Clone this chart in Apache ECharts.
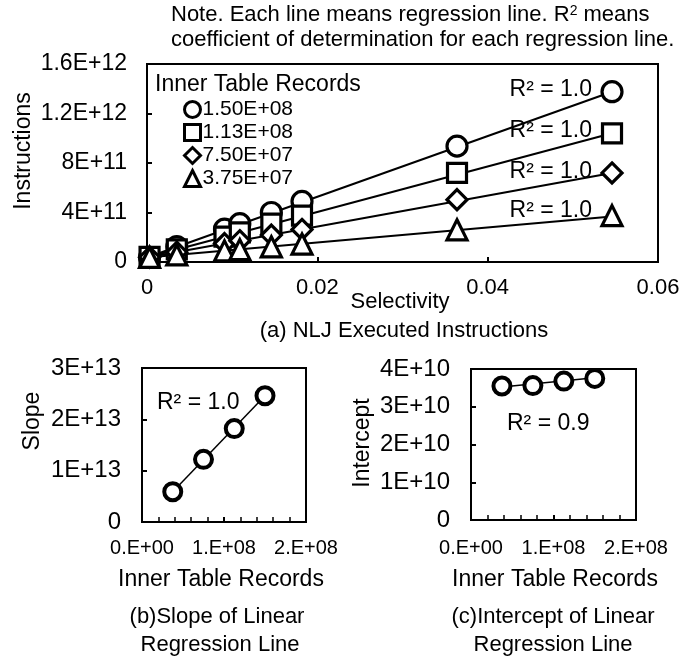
<!DOCTYPE html>
<html><head><meta charset="utf-8">
<script src="https://cdn.jsdelivr.net/npm/echarts@6/dist/echarts.min.js"></script>
<style>html,body{margin:0;padding:0;background:#fff}#c{width:683px;height:666px}</style>
</head><body><div id="c"></div>
<script>
// ---- data ----
const selectivity = [0.0003, 0.0035, 0.0091, 0.0109, 0.0146, 0.0182, 0.0364, 0.0546];
const instr150 = [3.8e10, 1.25e11, 2.65e11, 3.1e11, 4.0e11, 4.9e11, 9.36e11, 1.376e12];
const instr113 = [4.2e10, 1.02e11, 2.05e11, 2.4e11, 3.1e11, 3.75e11, 7.2e11, 1.04e12];
const instr75  = [3.9e10, 7.9e10, 1.49e11, 1.72e11, 2.18e11, 2.63e11, 5.04e11, 7.2e11];
const instr375 = [3.7e10, 5.7e10, 9.0e10, 1.0e11, 1.23e11, 1.45e11, 2.6e11, 3.75e11];
const fitSel = [0, 0.0546];
const fit150 = [3.6e10, 1.376e12];
const fit113 = [3.7e10, 1.04e12];
const fit75  = [3.6e10, 7.2e11];
const fit375 = [3.6e10, 3.68e11];
const legendNames = ['1.50E+08', '1.13E+08', '7.50E+07', '3.75E+07'];
const r2Main = ['R² = 1.0', 'R² = 1.0', 'R² = 1.0', 'R² = 1.0'];
const yTicksA = ['0', '4E+11', '8E+11', '1.2E+12', '1.6E+12'];
const xTicksA = ['0', '0.02', '0.04', '0.06'];

const innerRecords = [3.75e7, 7.5e7, 1.125e8, 1.5e8];
const slopes = [5.9e12, 1.22e13, 1.82e13, 2.46e13];
const intercepts = [3.55e10, 3.56e10, 3.68e10, 3.75e10];
const fitRecords = [3.75e7, 1.5e8];
const slopeFit = [5.9e12, 2.46e13];
const interceptFit = [3.52e10, 3.77e10];
const yTicksB = ['0', '1E+13', '2E+13', '3E+13'];
const yTicksC = ['0', '1E+10', '2E+10', '3E+10', '4E+10'];
const xTicksBC = ['0.E+00', '1.E+08', '2.E+08'];

// ---- chart ----
const FONT = 'Liberation Sans, Arial, sans-serif';
const chart = echarts.init(document.getElementById('c'));
const zip = (xs, ys) => xs.map((x, i) => [x, ys[i]]);
const lbl = (arr, step) => (v) => { const k = Math.round(v / step); return arr[k] !== undefined ? arr[k] : ''; };
const tickStyle = {inside: true, length: 5, lineStyle: {color: '#000', width: 2}};
const axisLine = {show: true, lineStyle: {color: '#000', width: 2}};
const labStyle = (m, fs) => ({color: '#000', fontSize: fs, fontFamily: FONT, margin: m});

const symbols = ['circle', 'rect', 'diamond', 'triangle'];
const symSizes = [20, 19, 20, 20];
const sets = [instr150, instr113, instr75, instr375];
const fits = [fit150, fit113, fit75, fit375];

const series = [];
fits.forEach((f, i) => {
  series.push({type: 'line', xAxisIndex: 0, yAxisIndex: 0, data: zip(fitSel, f), symbol: 'none',
    lineStyle: {color: '#000', width: 2}, z: 2, silent: true, name: 'fit' + i});
});
sets.forEach((s, i) => {
  series.push({type: 'scatter', name: legendNames[i], xAxisIndex: 0, yAxisIndex: 0,
    data: zip(selectivity, s), symbol: symbols[i], symbolSize: symSizes[i],
    itemStyle: {color: '#fff', borderColor: '#000', borderWidth: 3.2, opacity: 1}, z: 3});
});
series.push({type: 'line', xAxisIndex: 1, yAxisIndex: 1, data: zip(fitRecords, slopeFit), symbol: 'none',
  lineStyle: {color: '#000', width: 1.5}, z: 2});
series.push({type: 'scatter', xAxisIndex: 1, yAxisIndex: 1, data: zip(innerRecords, slopes), symbol: 'circle',
  symbolSize: 17, itemStyle: {color: '#fff', borderColor: '#000', borderWidth: 4, opacity: 1}, z: 3});
series.push({type: 'line', xAxisIndex: 2, yAxisIndex: 2, data: zip(fitRecords, interceptFit), symbol: 'none',
  lineStyle: {color: '#000', width: 1.5}, z: 2});
series.push({type: 'scatter', xAxisIndex: 2, yAxisIndex: 2, data: zip(innerRecords, intercepts), symbol: 'circle',
  symbolSize: 17, itemStyle: {color: '#fff', borderColor: '#000', borderWidth: 4, opacity: 1}, z: 3});

const txt = (text, x, y, size, align, rot) => ({type: 'text', x: x, y: y, rotation: rot || 0, z: 10,
  style: {text: text, fontSize: size, fontFamily: FONT, fill: '#000', align: align || 'left', verticalAlign: 'middle'}});

const graphic = [
  {type: 'text', x: 171, y: 15, z: 10, style: {text: 'Note. Each line means regression line. R{s|2} means',
    fontSize: 22, fontFamily: FONT, fill: '#000', align: 'left', verticalAlign: 'middle',
    rich: {s: {fontSize: 14, fontFamily: FONT, verticalAlign: 'top', lineHeight: 22}}}},
  txt('coefficient of determination for each regression line.', 171, 40, 22),
  txt('Inner Table Records', 155, 85, 23),
  txt('Instructions', 24, 151, 23, 'center', Math.PI / 2),
  txt('Selectivity', 400, 302, 22, 'center'),
  txt('(a) NLJ Executed Instructions', 404, 331, 22, 'center'),
  txt('Slope', 33, 421, 23, 'center', Math.PI / 2),
  txt('Intercept', 363, 443, 23, 'center', Math.PI / 2),
  txt('R² = 1.0', 157, 403, 23),
  txt('R² = 0.9', 507, 424, 23),
  txt('Inner Table Records', 221, 580, 23, 'center'),
  txt('Inner Table Records', 555, 580, 23, 'center'),
  txt('(b)Slope of Linear', 217, 617, 22, 'center'),
  txt('Regression Line', 220, 645, 22, 'center'),
  txt('(c)Intercept of Linear', 553, 617, 22, 'center'),
  txt('Regression Line', 553, 645, 22, 'center')
];
const r2Y = [90, 131, 172, 211];
r2Main.forEach((t, i) => graphic.push(txt(t, 592, r2Y[i], 23, 'right')));

chart.setOption({
  animation: false,
  backgroundColor: '#fff',
  grid: [
    {left: 147, top: 64, width: 511, height: 198, show: true, borderColor: '#000', borderWidth: 2, backgroundColor: 'transparent'},
    {left: 142, top: 368, width: 164, height: 154, show: true, borderColor: '#000', borderWidth: 2, backgroundColor: 'transparent'},
    {left: 471, top: 369, width: 165, height: 151, show: true, borderColor: '#000', borderWidth: 2, backgroundColor: 'transparent'}
  ],
  xAxis: [
    {type: 'value', gridIndex: 0, min: 0, max: 0.06, interval: 0.02, axisLine: axisLine, axisTick: tickStyle,
      splitLine: {show: false}, axisLabel: Object.assign(labStyle(15, 22), {formatter: lbl(xTicksA, 0.02)})},
    {type: 'value', gridIndex: 1, min: 0, max: 2e8, interval: 1e8, axisLine: axisLine, axisTick: tickStyle,
      minorTick: {show: true, splitNumber: 5, length: 5, lineStyle: {color: '#000', width: 1.5}},
      splitLine: {show: false}, minorSplitLine: {show: false},
      axisLabel: Object.assign(labStyle(16, 20), {formatter: lbl(xTicksBC, 1e8)})},
    {type: 'value', gridIndex: 2, min: 0, max: 2e8, interval: 1e8, axisLine: axisLine, axisTick: tickStyle,
      minorTick: {show: true, splitNumber: 5, length: 5, lineStyle: {color: '#000', width: 1.5}},
      splitLine: {show: false}, minorSplitLine: {show: false},
      axisLabel: Object.assign(labStyle(18, 20), {formatter: lbl(xTicksBC, 1e8)})}
  ],
  yAxis: [
    {type: 'value', gridIndex: 0, min: 0, max: 1.6e12, interval: 4e11, axisLine: axisLine, axisTick: tickStyle,
      splitLine: {show: false}, axisLabel: Object.assign(labStyle(20, 23), {formatter: lbl(yTicksA, 4e11)})},
    {type: 'value', gridIndex: 1, min: 0, max: 3e13, interval: 1e13, axisLine: axisLine, axisTick: tickStyle,
      splitLine: {show: false}, axisLabel: Object.assign(labStyle(21, 24), {formatter: lbl(yTicksB, 1e13)})},
    {type: 'value', gridIndex: 2, min: 0, max: 4e10, interval: 1e10, axisLine: axisLine, axisTick: tickStyle,
      splitLine: {show: false}, axisLabel: Object.assign(labStyle(21, 24), {formatter: lbl(yTicksC, 1e10)})}
  ],
  legend: {
    data: legendNames, orient: 'vertical', left: 183, top: 99, itemWidth: 16, itemHeight: 16, itemGap: 2,
    selectedMode: false, padding: 0,
    itemStyle: {color: '#fff', borderColor: '#000', borderWidth: 3},
    textStyle: {color: '#000', fontSize: 21, fontFamily: FONT, padding: [0, 0, 0, -3]}
  },
  graphic: graphic,
  series: series
});
</script></body></html>
